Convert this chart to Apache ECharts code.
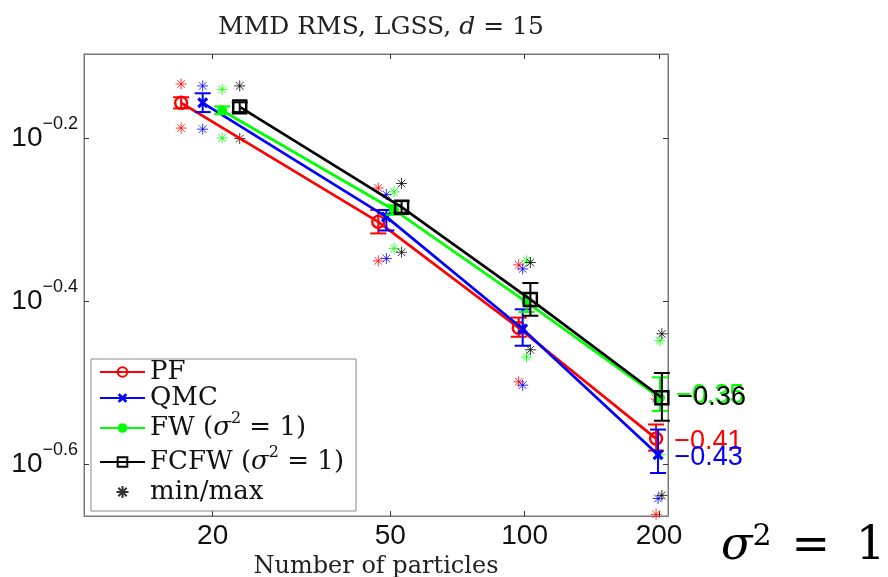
<!DOCTYPE html>
<html><head><meta charset="utf-8">
<script src="https://cdn.jsdelivr.net/npm/echarts@6/dist/echarts.min.js"></script>
<style>html,body{margin:0;padding:0;background:#fff}#c{width:888px;height:577px}</style>
</head><body><div id="c"></div>
<script>
// ---------- data ----------
const particles = [20, 50, 100, 200];
const xOffsets = [-3, -1, 1, 3];            // horizontal dodge used in the original plot
const seriesNames = ['PF', 'QMC', 'FW', 'FCFW'];
const slopes = [-0.41, -0.43, -0.35, -0.36];

const pfMean   = [0.697, 0.498, 0.369, 0.270];
const pfLow    = [0.686, 0.482, 0.360, 0.261];
const pfHigh   = [0.708, 0.515, 0.380, 0.281];
const pfMin    = [0.649, 0.446, 0.317, 0.218];
const pfMax    = [0.735, 0.548, 0.441, 0.302];

const qmcMean  = [0.697, 0.505, 0.368, 0.258];
const qmcLow   = [0.679, 0.486, 0.351, 0.245];
const qmcHigh  = [0.716, 0.515, 0.389, 0.277];
const qmcMin   = [0.647, 0.449, 0.314, 0.228];
const qmcMax   = [0.731, 0.538, 0.436, 0.301];

const fwMean   = [0.682, 0.515, 0.397, 0.303];
const fwLow    = [0.675, 0.508, 0.386, 0.292];
const fwHigh   = [0.690, 0.522, 0.407, 0.321];
const fwMin    = [0.631, 0.462, 0.340, 0.258];
const fwMax    = [0.724, 0.542, 0.446, 0.356];

const fcfwMean = [0.689, 0.519, 0.400, 0.303];
const fcfwLow  = [0.679, 0.511, 0.382, 0.284];
const fcfwHigh = [0.698, 0.528, 0.419, 0.325];
const fcfwMin  = [0.630, 0.457, 0.347, 0.230];
const fcfwMax  = [0.731, 0.555, 0.444, 0.363];

const yTickExponents = [-0.6, -0.4, -0.2];
const xLimits = [10.3, 209.5];
const yLimits = [0.217, 0.8];

// ---------- build ----------
const L = Math.log10;
const means = [pfMean, qmcMean, fwMean, fcfwMean];
const lows  = [pfLow, qmcLow, fwLow, fcfwLow];
const highs = [pfHigh, qmcHigh, fwHigh, fcfwHigh];
const mins  = [pfMin, qmcMin, fwMin, fcfwMin];
const maxs  = [pfMax, qmcMax, fwMax, fcfwMax];
const colors = ['#ff0000', '#0000ff', '#00ff00', '#000000'];
const symbols = [
  'circle',
  'path://M0,2 L2,0 L5,3 L8,0 L10,2 L7,5 L10,8 L8,10 L5,7 L2,10 L0,8 L3,5 Z',
  'circle',
  'rect'
];
const symbolSizes = [12, 11, 10, 13];
const symbolFill = ['rgba(0,0,0,0)', '#0000ff', '#00ff00', 'rgba(0,0,0,0)'];
const labelDist = [11, 11, 11, 8];
const STAR = 'path://M5,0 L5,10 M0,5 L10,5 M1.5,1.5 L8.5,8.5 M8.5,1.5 L1.5,8.5';
const fmtSlope = v => '\u2212' + Math.abs(v).toFixed(2);

const series = [];
// stars (min/max)
for (let i = 0; i < 4; i++) {
  const pts = [];
  particles.forEach((n, j) => {
    const x = L(n + xOffsets[i]);
    pts.push([x, L(mins[i][j])]);
    pts.push([x, L(maxs[i][j])]);
  });
  series.push({
    type: 'scatter', name: i === 3 ? 'min/max' : seriesNames[i] + ' min/max',
    data: pts, symbol: STAR, symbolSize: 11, z: 1,
    itemStyle: { color: 'rgba(0,0,0,0)', borderColor: colors[i], borderWidth: 1, opacity: 0.8 }
  });
}
for (let i = 0; i < 4; i++) {
  const data = particles.map((n, j) => {
    const item = { value: [L(n + xOffsets[i]), L(means[i][j])] };
    if (j === particles.length - 1) {
      item.label = {
        show: true, position: 'right', distance: labelDist[i],
        formatter: fmtSlope(slopes[i]), color: colors[i],
        fontFamily: 'Liberation Sans', fontSize: 27,
        offset: i === 2 ? [0, -2] : (i === 3 ? [0, 0] : [0, 3])
      };
    }
    return item;
  });
  series.push({
    type: 'line', name: seriesNames[i], data, z: 3 + i,
    symbol: symbols[i], symbolSize: symbolSizes[i], showSymbol: true,
    lineStyle: { color: colors[i], width: 2.7 },
    itemStyle: { color: symbolFill[i], borderColor: colors[i], borderWidth: i === 1 || i === 2 ? 0 : 2.4 }
  });
  const c = colors[i];
  series.push({
    type: 'custom', name: seriesNames[i] + ' err', z: 3 + i,
    data: particles.map((n, j) => [L(n + xOffsets[i]), L(lows[i][j]), L(highs[i][j])]),
    encode: { x: 0, y: [1, 2] },
    renderItem: (params, api) => {
      const x = api.value(0);
      const lo = api.coord([x, api.value(1)]);
      const hi = api.coord([x, api.value(2)]);
      const w = 8;
      const st = { stroke: c, lineWidth: 2 };
      return { type: 'group', children: [
        { type: 'line', shape: { x1: lo[0], y1: lo[1], x2: hi[0], y2: hi[1] }, style: st },
        { type: 'line', shape: { x1: lo[0] - w, y1: lo[1], x2: lo[0] + w, y2: lo[1] }, style: st },
        { type: 'line', shape: { x1: hi[0] - w, y1: hi[1], x2: hi[0] + w, y2: hi[1] }, style: st }
      ] };
    }
  });
}

const serif = 'DejaVu Serif';
const axisColor = '#777';
const xTicks = particles.map(L);
const yTicks = yTickExponents;

const option = {
  animation: false,
  backgroundColor: '#fff',
  title: {
    text: 'MMD RMS, LGSS, {i|d} = 15',
    left: 376, top: 10, textAlign: 'center',
    textStyle: { fontFamily: serif, fontSize: 25, fontWeight: 'normal', color: '#222',
      rich: { i: { fontFamily: serif, fontStyle: 'italic', fontSize: 25, color: '#222' } } }
  },
  grid: { left: 84, right: 220, top: 54, bottom: 61, show: true, borderColor: axisColor, borderWidth: 1,
    containLabel: false, outerBoundsMode: 'none' },
  xAxis: [{
    type: 'value', min: L(xLimits[0]), max: L(xLimits[1]),
    splitLine: { show: false },
    axisLine: { show: true, lineStyle: { color: axisColor } },
    axisTick: { show: true, inside: true, length: 5, customValues: xTicks, lineStyle: { color: '#333' } },
    axisLabel: { customValues: xTicks, formatter: v => String(Math.round(Math.pow(10, v))),
      fontFamily: 'Liberation Sans', fontSize: 28, color: '#111', margin: 6 },
    name: 'Number of particles', nameLocation: 'middle', nameGap: 36,
    nameTextStyle: { fontFamily: serif, fontSize: 24, color: '#222' }
  }, {
    type: 'value', position: 'top', min: L(xLimits[0]), max: L(xLimits[1]),
    splitLine: { show: false },
    axisLine: { show: true, lineStyle: { color: axisColor } },
    axisTick: { show: true, inside: true, length: 5, customValues: xTicks, lineStyle: { color: '#333' } },
    axisLabel: { show: false }
  }],
  yAxis: [{
    type: 'value', min: L(yLimits[0]), max: L(yLimits[1]),
    splitLine: { show: false },
    axisLine: { show: true, lineStyle: { color: axisColor } },
    axisTick: { show: true, inside: true, length: 5, customValues: yTicks, lineStyle: { color: '#333' } },
    axisLabel: {
      customValues: yTicks, margin: 6,
      formatter: v => '{b|10}{s|\u2212' + Math.abs(v).toFixed(1) + '}',
      rich: {
        b: { fontFamily: 'Liberation Sans', fontSize: 28, lineHeight: 28, color: '#111' },
        s: { fontFamily: 'Liberation Sans', fontSize: 18, lineHeight: 18, color: '#111', padding: [0, 0, 28, 0] }
      }
    }
  }, {
    type: 'value', position: 'right', min: L(yLimits[0]), max: L(yLimits[1]),
    splitLine: { show: false },
    axisLine: { show: true, lineStyle: { color: axisColor } },
    axisTick: { show: true, inside: true, length: 5, customValues: yTicks, lineStyle: { color: '#333' } },
    axisLabel: { show: false }
  }],
  legend: {
    data: ['PF', 'QMC', 'FW', 'FCFW', 'min/max'],
    orient: 'vertical', left: 91, top: 359,
    padding: [0, 12, 6, 8], itemGap: 0, itemWidth: 45, itemHeight: 12,
    borderColor: '#888', borderWidth: 1, backgroundColor: '#fff',
    formatter: name => ({
      PF: 'PF', QMC: 'QMC',
      FW: 'FW ({i|\u03c3}{s|2} = 1)',
      FCFW: 'FCFW ({i|\u03c3}{s|2} = 1)',
      'min/max': 'min/max'
    })[name],
    textStyle: {
      fontFamily: serif, fontSize: 26, lineHeight: 24, color: '#111',
      rich: {
        i: { fontFamily: serif, fontStyle: 'italic', fontSize: 26, lineHeight: 24, color: '#111' },
        s: { fontFamily: serif, fontSize: 16, lineHeight: 16, color: '#111', padding: [0, 0, 18, 0] }
      }
    }
  },
  graphic: [{
    type: 'text', left: 721, top: 522,
    style: {
      text: '{i|\u03c3}{s|2}{e|=}{o|1}',
      rich: {
        i: { fontFamily: serif, fontStyle: 'italic', fontSize: 46, lineHeight: 48, fill: '#000' },
        s: { fontFamily: serif, fontSize: 30, lineHeight: 30, fill: '#000', padding: [0, 0, 20, 0] },
        e: { fontFamily: serif, fontSize: 46, lineHeight: 48, fill: '#000', padding: [0, 0, 0, 20] },
        o: { fontFamily: serif, fontSize: 46, lineHeight: 48, fill: '#000', padding: [0, 0, 0, 26] }
      }
    }
  }],
  series
};
option.series.forEach(s => { s.xAxisIndex = 0; s.yAxisIndex = 0; });
const chart = echarts.init(document.getElementById('c'), null, { renderer: 'canvas' });
chart.setOption(option);
</script></body></html>
